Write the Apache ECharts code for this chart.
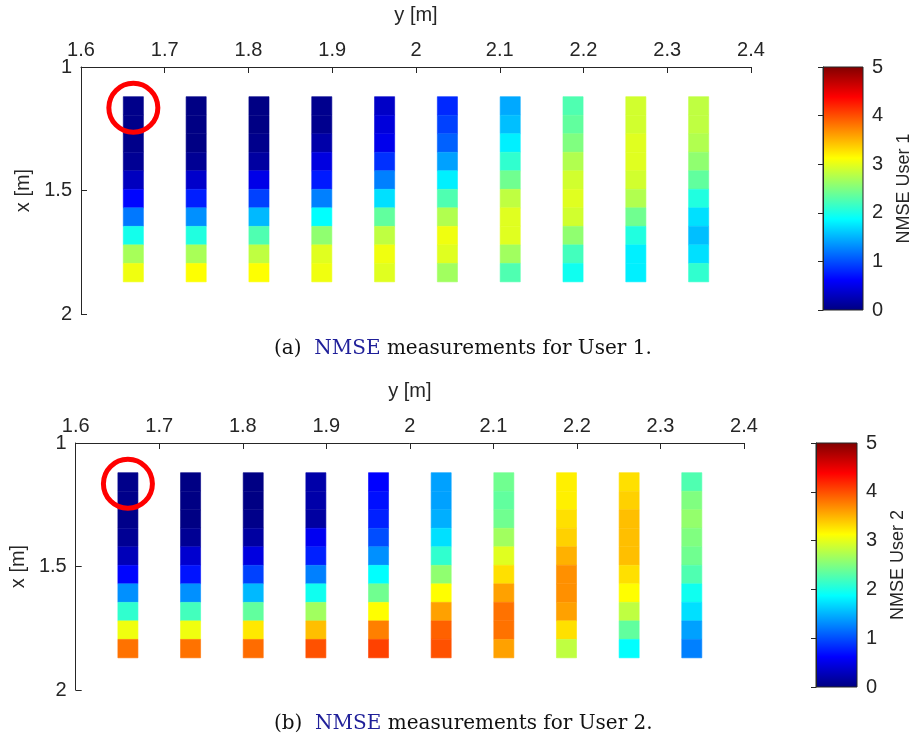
<!DOCTYPE html>
<html>
<head>
<meta charset="utf-8">
<script src="https://cdn.jsdelivr.net/npm/echarts@6/dist/echarts.min.js"></script>
<style>
  html, body { margin: 0; padding: 0; background: #fff; }
  #chart { width: 915px; height: 742px; }
</style>
</head>
<body>
<div id="chart"></div>
<script>
// measurement grid: horizontal axis is y [m], vertical axis is x [m]
const yPos = [1.6625, 1.7375, 1.8125, 1.8875, 1.9625, 2.0375, 2.1125, 2.1875, 2.2625, 2.3375];
const xPos = [1.1575, 1.2325, 1.3075, 1.3825, 1.4575, 1.5325, 1.6075, 1.6825, 1.7575, 1.8325];

// NMSE per column (one entry per yPos), rows listed top to bottom (xPos order)
const nmseUser1 = [
  [0.05, 0.05, 0.05, 0.10, 0.31, 0.65, 1.21, 1.97, 2.69, 3.05],
  [0.02, 0.02, 0.02, 0.10, 0.37, 0.77, 1.33, 2.03, 2.70, 3.12],
  [0.02, 0.02, 0.06, 0.16, 0.51, 0.94, 1.53, 2.26, 2.81, 3.12],
  [0.07, 0.07, 0.20, 0.47, 0.75, 1.25, 1.88, 2.58, 2.97, 3.05],
  [0.35, 0.45, 0.53, 0.86, 1.25, 1.72, 2.35, 2.81, 3.05, 2.97],
  [0.82, 0.94, 1.10, 1.41, 1.80, 2.26, 2.74, 3.05, 2.97, 2.66],
  [1.45, 1.56, 1.80, 2.11, 2.42, 2.81, 2.97, 2.97, 2.66, 2.26],
  [2.26, 2.35, 2.50, 2.74, 2.90, 2.97, 2.90, 2.58, 2.20, 1.95],
  [2.90, 2.90, 2.97, 2.97, 2.90, 2.74, 2.42, 2.03, 1.80, 1.80],
  [2.81, 2.81, 2.74, 2.58, 2.35, 2.03, 1.72, 1.56, 1.72, 2.11]
];
const nmseUser2 = [
  [0.05, 0.05, 0.05, 0.10, 0.28, 0.65, 1.33, 2.11, 3.05, 3.82],
  [0.02, 0.02, 0.02, 0.10, 0.39, 0.72, 1.33, 2.20, 3.05, 3.82],
  [0.02, 0.02, 0.05, 0.16, 0.47, 0.94, 1.53, 2.35, 3.24, 3.85],
  [0.20, 0.20, 0.16, 0.56, 0.78, 1.25, 1.95, 2.66, 3.44, 3.98],
  [0.63, 0.70, 0.78, 1.00, 1.33, 1.88, 2.42, 3.13, 3.75, 4.06],
  [1.41, 1.41, 1.48, 1.72, 2.11, 2.58, 3.13, 3.59, 3.90, 3.98],
  [2.42, 2.35, 2.42, 2.66, 2.97, 3.28, 3.59, 3.82, 3.82, 3.59],
  [3.20, 3.20, 3.28, 3.35, 3.51, 3.67, 3.67, 3.59, 3.28, 2.81],
  [3.28, 3.35, 3.44, 3.44, 3.44, 3.28, 3.13, 2.81, 2.35, 1.88],
  [2.26, 2.50, 2.60, 2.50, 2.42, 2.26, 1.95, 1.72, 1.41, 1.25]
];

// highlighted position (red circle), [y, x]
const markedPos = [1.6625, 1.165];

const yTicks = { min: 1.6, max: 2.4, step: 0.1 };
const xTicks = { min: 1, max: 2, step: 0.5 };
const nmseTicks = { min: 0, max: 5, step: 1 };

const CELL_W = 0.024;
const CELL_H = 0.0745;
const JET = ['#000080', '#0000ff', '#0080ff', '#00ffff', '#80ff80', '#ffff00', '#ff8000', '#ff0000', '#800000'];
const AXIS_COLOR = '#262626';
const SANS = 'Liberation Sans, Arial, sans-serif';

const toCells = (cols) => {
  const out = [];
  cols.forEach((col, i) => col.forEach((v, j) => out.push([yPos[i], xPos[j], v])));
  return out;
};

const renderCell = (params, api) => {
  const c = api.coord([api.value(0), api.value(1)]);
  const s = api.size([CELL_W, CELL_H]);
  const color = api.visual('color');
  return {
    type: 'rect',
    shape: { x: c[0] - s[0] / 2, y: c[1] - s[1] / 2, width: s[0], height: s[1] },
    style: { fill: color, stroke: color, lineWidth: 0.6 }
  };
};

const jetGradient = {
  type: 'linear', x: 0, y: 1, x2: 0, y2: 0,
  colorStops: JET.map((color, i) => ({ offset: i / (JET.length - 1), color }))
};

const axisLabel = { color: AXIS_COLOR, fontFamily: SANS, fontSize: 20 };
const axisLine = { show: true, onZero: false, lineStyle: { color: AXIS_COLOR, width: 1 } };
const axisTick = { show: true, inside: true, length: 6, lineStyle: { color: AXIS_COLOR } };

const plotX = (gridIndex) => ({
  type: 'value', gridIndex, position: 'top',
  min: yTicks.min, max: yTicks.max, interval: yTicks.step,
  name: 'y [m]', nameLocation: 'middle', nameGap: 42,
  nameTextStyle: { color: AXIS_COLOR, fontFamily: SANS, fontSize: 20 },
  axisLine, axisTick, axisLabel: { ...axisLabel, margin: 7 },
  splitLine: { show: false }
});
const plotY = (gridIndex) => ({
  type: 'value', gridIndex, inverse: true,
  min: xTicks.min, max: xTicks.max, interval: xTicks.step,
  name: 'x [m]', nameLocation: 'middle', nameGap: 46, nameRotate: 90,
  nameTextStyle: { color: AXIS_COLOR, fontFamily: SANS, fontSize: 20 },
  axisLine, axisTick, axisLabel: { ...axisLabel, margin: 9 },
  splitLine: { show: false }
});
const barX = (gridIndex) => ({
  type: 'value', gridIndex, min: 0, max: 1, show: false
});
const barY = (gridIndex, label) => ({
  type: 'value', gridIndex, position: 'right',
  min: nmseTicks.min, max: nmseTicks.max, interval: nmseTicks.step,
  name: label, nameLocation: 'middle', nameGap: 32, nameRotate: 90,
  nameTextStyle: { color: AXIS_COLOR, fontFamily: SANS, fontSize: 18 },
  axisLine: { show: true, lineStyle: { color: AXIS_COLOR, width: 1 } },
  axisTick: { show: true, inside: true, length: 5, lineStyle: { color: AXIS_COLOR } },
  axisLabel: { ...axisLabel, margin: 9 },
  splitLine: { show: false }
});

const captionRich = {
  p: { fontFamily: 'DejaVu Serif, serif', fontSize: 20, fontWeight: 'normal', color: '#111' },
  n: { fontFamily: 'DejaVu Serif, serif', fontSize: 20, fontWeight: 'normal', color: '#1f1f99' }
};

const chart = echarts.init(document.getElementById('chart'));
chart.setOption({
  backgroundColor: '#fff',
  animation: false,
  title: [
    { text: '{p|(a)  }{n|NMSE}{p| measurements for User 1.}', left: 274, top: 339, padding: 0,
      textStyle: { fontWeight: 'normal', rich: captionRich } },
    { text: '{p|(b)  }{n|NMSE}{p| measurements for User 2.}', left: 274, top: 714, padding: 0,
      textStyle: { fontWeight: 'normal', rich: captionRich } }
  ],
  grid: [
    { left: 81, top: 67, width: 670, height: 247 },
    { left: 823, top: 67, width: 40, height: 243, show: true,
      backgroundColor: jetGradient, borderColor: AXIS_COLOR, borderWidth: 1 },
    { left: 74, top: 443, width: 670, height: 247 },
    { left: 816, top: 443, width: 41, height: 244, show: true,
      backgroundColor: jetGradient, borderColor: AXIS_COLOR, borderWidth: 1 }
  ],
  xAxis: [plotX(0), barX(1), plotX(2), barX(3)],
  yAxis: [plotY(0), barY(1, 'NMSE User 1'), plotY(2), barY(3, 'NMSE User 2')],
  visualMap: [
    { type: 'continuous', show: false, seriesIndex: 0, dimension: 2,
      min: nmseTicks.min, max: nmseTicks.max, inRange: { color: JET } },
    { type: 'continuous', show: false, seriesIndex: 2, dimension: 2,
      min: nmseTicks.min, max: nmseTicks.max, inRange: { color: JET } }
  ],
  series: [
    { name: 'User 1', type: 'custom', xAxisIndex: 0, yAxisIndex: 0,
      renderItem: renderCell, encode: { x: 0, y: 1 }, data: toCells(nmseUser1) },
    { name: 'marker 1', type: 'scatter', xAxisIndex: 0, yAxisIndex: 0, z: 5,
      symbol: 'circle', symbolSize: 49, silent: true,
      itemStyle: { color: 'rgba(0,0,0,0)', borderColor: '#ff0000', borderWidth: 5, opacity: 1 },
      data: [markedPos] },
    { name: 'User 2', type: 'custom', xAxisIndex: 2, yAxisIndex: 2,
      renderItem: renderCell, encode: { x: 0, y: 1 }, data: toCells(nmseUser2) },
    { name: 'marker 2', type: 'scatter', xAxisIndex: 2, yAxisIndex: 2, z: 5,
      symbol: 'circle', symbolSize: 49, silent: true,
      itemStyle: { color: 'rgba(0,0,0,0)', borderColor: '#ff0000', borderWidth: 5, opacity: 1 },
      data: [markedPos] }
  ]
});
window.addEventListener('resize', () => chart.resize());
</script>
</body>
</html>
